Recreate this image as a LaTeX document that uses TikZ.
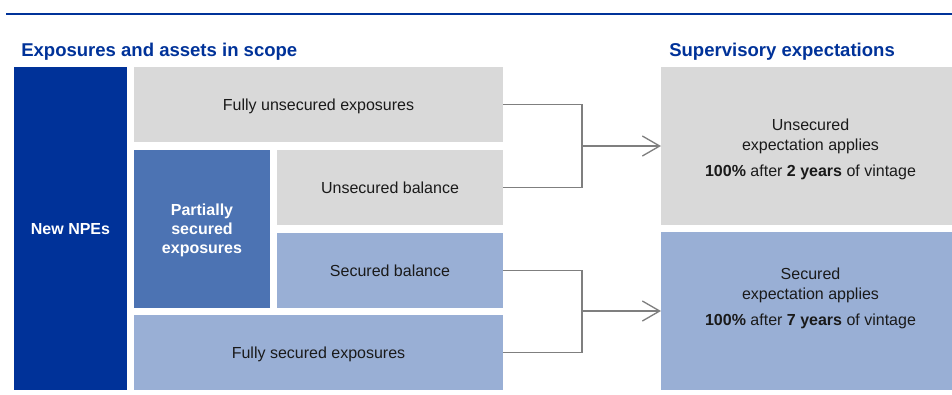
\documentclass[tikz,border=0pt]{standalone}
\usepackage{fontspec}
\setmainfont{Liberation Sans}
\usetikzlibrary{arrows.meta}

\definecolor{ecbblue}{HTML}{003299}
\definecolor{midblue}{HTML}{4C73B3}
\definecolor{paleblue}{HTML}{99AFD5}
\definecolor{palegrey}{HTML}{D9D9D9}
\definecolor{txtgrey}{HTML}{1A1A1A}
\definecolor{lnkgrey}{HTML}{7F7F7F}

\tikzset{
  blk/.style={anchor=north west, inner sep=0pt, outer sep=0pt, align=center,
    font=\fontsize{12}{15}\selectfont, text=txtgrey, text depth=0pt},
  expect/.style={inner sep=0pt, align=center, text=txtgrey,
    font=\fontsize{12}{15}\selectfont},
  head/.style={anchor=base west, inner sep=0pt, text=ecbblue,
    font=\fontsize{13.9}{16}\selectfont\bfseries},
  link/.style={draw=lnkgrey, line width=1pt},
}

\begin{document}
\begin{tikzpicture}[x=0.75pt, y=-0.75pt]
\useasboundingbox (0,0) rectangle (952,394);

% Top rule
\draw[ecbblue, line width=1.5pt] (6,13.7) -- (952,13.7);

% Headings
\node[head] (hleft) at (21,56) {Exposures and assets in scope};
\node[head] (hright) at (669,56) {Supervisory expectations};

% Left blocks
\node[blk, fill=ecbblue, text=white, font=\fontsize{12}{15}\selectfont\bfseries,
  minimum width=84.75pt, minimum height=242.25pt] (npe) at (14,67) {New NPEs};
\node[blk, fill=palegrey, minimum width=276.75pt, minimum height=56.25pt]
  (fu) at (134,67) {Fully unsecured exposures};
\node[blk, fill=midblue, text=white, font=\fontsize{12}{14.3}\selectfont\bfseries,
  minimum width=102pt, minimum height=118.5pt] (ps) at (134,150)
  {Partially\\secured\\exposures};
\node[blk, fill=palegrey, minimum width=169.5pt, minimum height=56.25pt]
  (ub) at (277,150) {Unsecured balance};
\node[blk, fill=paleblue, minimum width=169.5pt, minimum height=56.25pt]
  (sb) at (277,233) {Secured balance};
\node[blk, fill=paleblue, minimum width=276.75pt, minimum height=56.25pt]
  (fs) at (134,315) {Fully secured exposures};

% Right blocks
\node[blk, fill=palegrey, minimum width=218.25pt, minimum height=118.5pt]
  (ue) at (661,67) {};
\node[blk, fill=paleblue, minimum width=218.25pt, minimum height=118.5pt]
  (se) at (661,232) {};
\node[expect] (uetext) at ([xshift=3pt, yshift=-2.5pt]ue.center)
  {Unsecured\\expectation applies\\[5pt]
  \textbf{100\%} after \textbf{2 years} of vintage};
\node[expect] (setext) at ([xshift=3pt, yshift=9.5pt]se.center)
  {Secured\\expectation applies\\[5pt]
  \textbf{100\%} after \textbf{7 years} of vintage};

% Connectors
\coordinate (j1) at (582,146);
\coordinate (j2) at (582,311);
\draw[link] (fu.east) -| (j1) |- (ub.east);
\draw[link, -{Straight Barb[length=13pt, width=15pt]}] (j1) -- (ue.west);
\draw[link] (sb.east) -| (j2) |- (fs.east);
\draw[link, -{Straight Barb[length=13pt, width=15pt]}] (j2) -- (se.west);

\end{tikzpicture}
\end{document}
